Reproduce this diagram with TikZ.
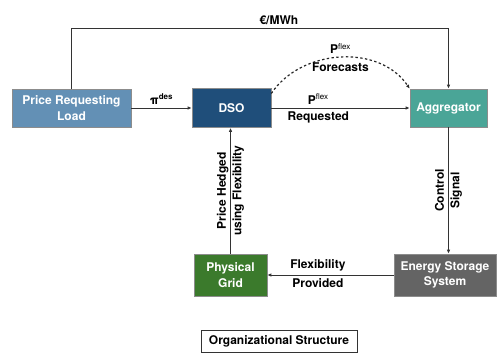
\documentclass[tikz,border=0pt]{standalone}
\usepackage{fontspec}
\setmainfont{TeX Gyre Heros}
\usetikzlibrary{calc, arrows.meta, positioning}
\definecolor{loadblue}{HTML}{6390B5}
\definecolor{dsoblue}{HTML}{1F4E7A}
\definecolor{aggteal}{HTML}{4AA597}
\definecolor{gridgreen}{HTML}{3B7A2C}
\definecolor{storegray}{HTML}{646464}

\begin{document}
\begin{tikzpicture}[x = 1pt, y = -1pt,
        font = \fontsize{12}{15.5}\selectfont\bfseries,
        box/.style = {draw = black!45, line width = 0.6pt, text = white,
                      align = center, inner sep = 0pt},
        flow/.style = {line width = 0.9pt, draw = black!80,
                       -{Latex[length = 4pt, width = 3.5pt]}},
        lbl/.style = {align = center, text = black}]

        \useasboundingbox (0,0) rectangle (498,353);

        \coordinate (top) at (0,28);

        \node[box, fill = loadblue, minimum width = 119pt, minimum height = 38pt]
            (prl) at (71.5,108) {Price Requesting\\Load};
        \node[box, fill = dsoblue, minimum width = 79pt, minimum height = 39pt]
            (dso) at (231.5,108) {DSO};
        \node[box, fill = aggteal, minimum width = 77pt, minimum height = 38pt]
            (agg) at (448.5,108) {Aggregator};
        \node[box, fill = gridgreen, minimum width = 73pt, minimum height = 42pt]
            (grid) at (230.5,275) {Physical\\Grid};
        \node[box, fill = storegray, minimum width = 102pt, minimum height = 42pt]
            (ess) at (445,275) {Energy Storage\\System};

        \draw[flow] (prl.north) -- (prl.north |- top) -| (agg.north)
            node[lbl, pos = 0.275, above] {€/MWh};
        \draw[flow] (prl) -- (dso) node[lbl, midway, above] {π\textsuperscript{des}};
        \draw[flow] (dso) -- (agg)
            node[lbl, pos = 0.34, above] {P\textsuperscript{\mdseries flex}}
            node[lbl, pos = 0.34, below] {Requested};
        \draw[flow, line width = 1.2pt, draw = black!85, dash pattern = on 2.4pt off 2.4pt]
            (dso.20) .. controls +(30,-45) and +(-30,-45) .. (agg.north west)
            node[lbl, pos = 0.5, above] {P\textsuperscript{\mdseries flex}}
            node[lbl, pos = 0.5, below = 1pt] {Forecasts};
        \draw[flow] (agg.south) -- (agg.south |- ess.north)
            node[lbl, midway, rotate = 90] {Control\\Signal};
        \draw[flow] (ess) -- (grid)
            node[lbl, pos = 0.6, above] {Flexibility}
            node[lbl, pos = 0.6, below] {Provided};
        \draw[flow] (grid.north) -- (grid.north |- dso.south)
            node[lbl, midway, rotate = 90] {Price Hedged\\using Flexibility};

        \node[draw = black!80, line width = 0.6pt, minimum width = 156pt,
              minimum height = 22pt] (org) at (279,341) {Organizational Structure};
    \end{tikzpicture}
\end{document}
